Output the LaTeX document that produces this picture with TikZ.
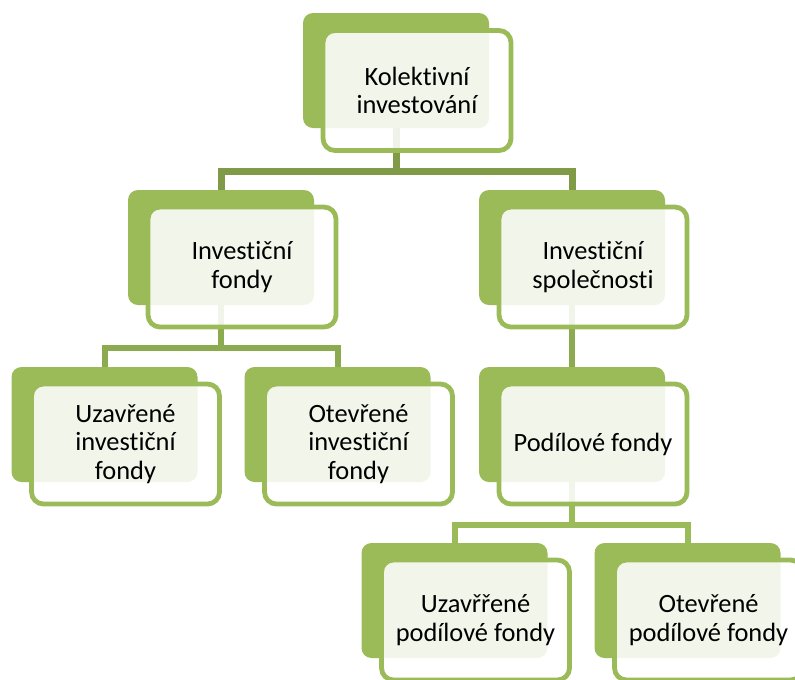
\documentclass[tikz,border=0pt]{standalone}
\usepackage{fontspec}
\setmainfont[Ligatures={NoCommon}]{Carlito}
\usetikzlibrary{positioning, calc, backgrounds}

\definecolor{leafgreen}{HTML}{9BBB59}
\definecolor{busdark}{HTML}{7F9B47}
\definecolor{busmid}{HTML}{8CAB50}

\begin{document}
\begin{tikzpicture}[x=0.75pt, y=-0.75pt,
    backbox/.style={fill=leafgreen, rounded corners=7.5pt,
      minimum width=139.5pt, minimum height=86.25pt},
    frontbox/.style={draw=leafgreen, line width=3.6pt, fill=white,
      fill opacity=0.88, text opacity=1, rounded corners=9pt,
      minimum width=141pt, minimum height=90pt, align=center,
      font=\fontsize{19.8}{21.3}\selectfont},
    bus/.style={line width=4.5pt, busmid}]
    \useasboundingbox (0,0) rectangle (795,679);

    % Top level
    \node[backbox] (kol) at (396,70.5) {};
    \node[frontbox] (kolF) at ($(kol)+(21,20)$) {Kolektivní\\investování};

    % Second level
    \node[backbox] (fondy) at (221,247.5) {};
    \node[frontbox] (fondyF) at ($(fondy)+(21,19.5)$) {Investiční\\fondy};
    \node[backbox] (spol) at (572,247.5) {};
    \node[frontbox] (spolF) at ($(spol)+(21,19.5)$) {Investiční\\společnosti};

    % Third level
    \node[backbox] (uzif) at (104.5,424.5) {};
    \node[frontbox] (uzifF) at ($(uzif)+(21,19.5)$) {Uzavřené\\investiční\\fondy};
    \node[backbox] (otif) at (337.5,424.5) {};
    \node[frontbox] (otifF) at ($(otif)+(21,19.5)$) {Otevřené\\investiční\\fondy};
    \node[backbox] (podil) at (572,424.5) {};
    \node[frontbox] (podilF) at ($(podil)+(21,19.5)$) {Podílové fondy};

    % Fourth level
    \node[backbox] (uzpf) at (454.5,600.5) {};
    \node[frontbox] (uzpfF) at ($(uzpf)+(21,19.5)$) {Uzavřřené\\podílové fondy};
    \node[backbox] (otpf) at (687.5,600.5) {};
    \node[frontbox] (otpfF) at ($(otpf)+(21,19.5)$) {Otevřené\\podílové fondy};

    % Connectors behind the boxes
    \begin{scope}[on background layer]
      \draw[bus, busdark, line width=5.25pt] (kol.south) |- ($(kolF.south)!.5!(fondy.north)$) -| (fondy.north);
      \draw[bus, busdark, line width=5.25pt] (kol.south) |- ($(kolF.south)!.5!(spol.north)$) -| (spol.north);
      \draw[bus] (fondy.south) |- ($(fondyF.south)!.5!(uzif.north)$) -| (uzif.north);
      \draw[bus] (fondy.south) |- ($(fondyF.south)!.5!(otif.north)$) -| (otif.north);
      \draw[bus] (spol.south) -- (podil.north);
      \draw[bus, leafgreen] (podil.south) |- ($(podilF.south)!.5!(uzpf.north)$) -| (uzpf.north);
      \draw[bus, leafgreen] (podil.south) |- ($(podilF.south)!.5!(otpf.north)$) -| (otpf.north);
    \end{scope}
\end{tikzpicture}
\end{document}
